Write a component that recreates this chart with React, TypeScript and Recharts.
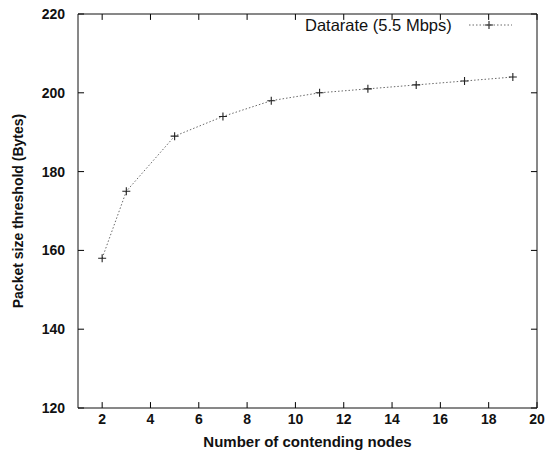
import React from 'react';
import { LineChart, Line, XAxis, YAxis, Legend, ReferenceLine } from 'recharts';

const nodes = [2, 3, 5, 7, 9, 11, 13, 15, 17, 19];
const threshold = [158, 175, 189, 194, 198, 200, 201, 202, 203, 204];
const xTicks = [2, 4, 6, 8, 10, 12, 14, 16, 18, 20];
const yTicks = [120, 140, 160, 180, 200, 220];
const seriesName = 'Datarate (5.5 Mbps)';
const xTitle = 'Number of contending nodes';
const yTitle = 'Packet size threshold (Bytes)';

const X_DOMAIN = [1, 20];
const Y_DOMAIN = [120, 220];

const data = nodes.map((n, i) => ({ n, v: threshold[i] }));

const FONT = '"Liberation Sans", Arial, Helvetica, sans-serif';
const LINE_COLOR = '#6a6a6a';
const X_MARGIN = 6;
const Y_MARGIN = 13;
// inward tick mark lengths expressed in axis units (~6px)
const X_TICK_UNITS = 1.5;
const Y_TICK_UNITS = 0.25;

const PlusDot = (props: any) => {
  const { cx, cy, index } = props;
  if (cx == null || cy == null) return <g key={index} />;
  return (
    <path
      key={index}
      d={`M${cx - 4},${cy}h8M${cx},${cy - 4}v8`}
      stroke="#222"
      strokeWidth={1.1}
      fill="none"
    />
  );
};

const BottomTick = (props: any) => {
  const { x, y, payload } = props;
  return (
    <text x={x} y={y} dy="0.71em" textAnchor="middle" fontFamily={FONT} fontSize={14} fontWeight="bold" fill="#111">
      {payload.value}
    </text>
  );
};

const LeftTick = (props: any) => {
  const { x, y, payload } = props;
  return (
    <text x={x} y={y} dy="0.36em" textAnchor="end" fontFamily={FONT} fontSize={14} fontWeight="bold" fill="#111">
      {payload.value}
    </text>
  );
};

const LegendContent = () => (
  <div style={{ display: 'flex', alignItems: 'center', fontFamily: FONT, fontSize: 16.5, lineHeight: '20px', color: '#111' }}>
    <span>{seriesName}</span>
    <svg width={50} height={16} style={{ marginLeft: 16 }}>
      <line x1={1} y1={8} x2={44} y2={8} stroke={LINE_COLOR} strokeWidth={1} strokeDasharray="1.5 2" />
      <path d="M17,8h8M21,4v8" stroke="#222" strokeWidth={1.1} fill="none" />
    </svg>
  </div>
);

const YTitle = (props: any) => {
  const vb = props.viewBox || {};
  const x = (vb.x || 0) + 18;
  const y = (vb.y || 0) + (vb.height || 0) / 2;
  return (
    <text
      x={x}
      y={y}
      transform={`rotate(-90, ${x}, ${y})`}
      textAnchor="middle"
      dominantBaseline="central"
      fontFamily={FONT}
      fontSize={14}
      fontWeight="bold"
      fill="#111"
    >
      {yTitle}
    </text>
  );
};

export default function App() {
  const [x0, x1] = X_DOMAIN;
  const [y0, y1] = Y_DOMAIN;
  const tickMarks: any[] = [];
  xTicks.forEach((t) => {
    tickMarks.push(
      <ReferenceLine key={`xb${t}`} xAxisId="b" yAxisId="l" segment={[{ x: t, y: y0 }, { x: t, y: y0 + X_TICK_UNITS }]} stroke="#000" strokeWidth={1} ifOverflow="visible" />
    );
    tickMarks.push(
      <ReferenceLine key={`xt${t}`} xAxisId="b" yAxisId="l" segment={[{ x: t, y: y1 }, { x: t, y: y1 - X_TICK_UNITS }]} stroke="#000" strokeWidth={1} ifOverflow="visible" />
    );
  });
  yTicks.forEach((t) => {
    tickMarks.push(
      <ReferenceLine key={`yl${t}`} xAxisId="b" yAxisId="l" segment={[{ x: x0, y: t }, { x: x0 + Y_TICK_UNITS, y: t }]} stroke="#000" strokeWidth={1} ifOverflow="visible" />
    );
    tickMarks.push(
      <ReferenceLine key={`yr${t}`} xAxisId="b" yAxisId="l" segment={[{ x: x1, y: t }, { x: x1 - Y_TICK_UNITS, y: t }]} stroke="#000" strokeWidth={1} ifOverflow="visible" />
    );
  });

  return (
    <div style={{ position: 'absolute', left: 0, top: 0, width: 560, height: 452, background: '#fff' }}>
      <LineChart width={560} height={452} data={data} margin={{ top: 13, right: 22, bottom: 0, left: 0 }}>
        <XAxis
          xAxisId="b"
          dataKey="n"
          type="number"
          domain={X_DOMAIN}
          ticks={xTicks}
          height={44}
          tickSize={0}
          tickLine={false}
          tickMargin={X_MARGIN}
          stroke="#111"
          tick={<BottomTick />}
          label={{ value: xTitle, position: 'insideBottom', offset: 5, style: { fontFamily: FONT, fontSize: 15, fontWeight: 'bold', fill: '#111' } }}
        />
        <XAxis
          xAxisId="t"
          dataKey="n"
          type="number"
          orientation="top"
          domain={X_DOMAIN}
          ticks={xTicks}
          height={1}
          tickSize={0}
          tickLine={false}
          tick={false}
          stroke="#111"
        />
        <YAxis
          yAxisId="l"
          dataKey="v"
          type="number"
          domain={Y_DOMAIN}
          ticks={yTicks}
          width={78}
          tickSize={0}
          tickLine={false}
          tickMargin={Y_MARGIN}
          stroke="#111"
          tick={<LeftTick />}
          label={<YTitle />}
        />
        <YAxis
          yAxisId="r"
          dataKey="v"
          type="number"
          orientation="right"
          domain={Y_DOMAIN}
          ticks={yTicks}
          width={1}
          tickSize={0}
          tickLine={false}
          tick={false}
          stroke="#111"
        />
        {tickMarks}
        <Legend
          verticalAlign="middle"
          layout="horizontal"
          content={<LegendContent />}
          wrapperStyle={{ top: 15, left: 305, width: 240, height: 20 }}
        />
        <Line
          xAxisId="b"
          yAxisId="l"
          type="linear"
          dataKey="v"
          name={seriesName}
          stroke={LINE_COLOR}
          strokeWidth={1}
          strokeDasharray="1.5 2"
          dot={<PlusDot />}
          isAnimationActive={false}
        />
      </LineChart>
    </div>
  );
}
